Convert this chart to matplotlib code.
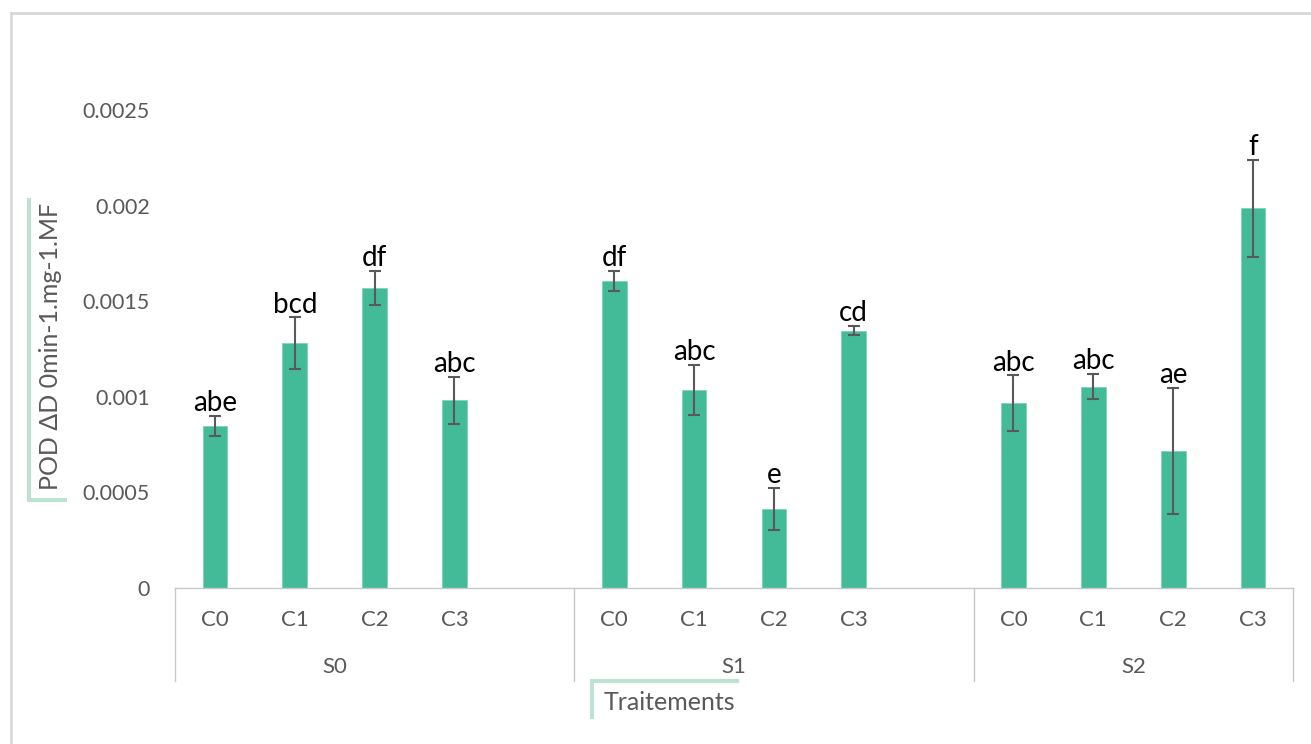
import numpy as np
import matplotlib
matplotlib.use('Agg')
import matplotlib.pyplot as plt
import matplotlib.patheffects as pe
from matplotlib.lines import Line2D
from matplotlib.transforms import blended_transform_factory

plt.rcParams['font.family'] = ['Lato', 'DejaVu Sans']

groups = ['S0', 'S1', 'S2']
treatments = ['C0', 'C1', 'C2', 'C3']
values = [
    [0.000847, 0.00128, 0.00157, 0.000982],
    [0.001606, 0.001036, 0.000413, 0.001346],
    [0.000966, 0.001053, 0.000718, 0.001986],
]
errors = [
    [0.000052, 0.000135, 0.000089, 0.000124],
    [0.000051, 0.000129, 0.000112, 0.0000235],
    [0.000146, 0.000067, 0.00033, 0.000254],
]
letters = [
    ['abe', 'bcd', 'df', 'abc'],
    ['df', 'abc', 'e', 'cd'],
    ['abc', 'abc', 'ae', 'f'],
]
yticks = [0, 0.0005, 0.001, 0.0015, 0.002, 0.0025]
ytick_labels = ['0', '0.0005', '0.001', '0.0015', '0.002', '0.0025']

W, H = 1311, 744
fig = plt.figure(figsize=(W / 100, H / 100), dpi=100)
ax = fig.add_axes([175 / W, 1 - 588 / H, (1293 - 175) / W, (588 - 110) / H])

bar_color = '#44BB98'
grey = '#595959'
slot = 5  # 4 bars + one empty slot per group

xs, ys, es, labs = [], [], [], []
for g in range(len(groups)):
    for t in range(len(treatments)):
        xs.append(g * slot + t)
        ys.append(values[g][t])
        es.append(errors[g][t])
        labs.append(letters[g][t])

ax.bar(xs, ys, width=0.31, color=bar_color, edgecolor='#7fd3b8', linewidth=0.6, zorder=2)
ax.errorbar(xs, ys, yerr=es, fmt='none', ecolor=grey, elinewidth=1.5,
            capsize=4.5, capthick=1.5, zorder=3)
for x, y, e, s in zip(xs, ys, es, labs):
    ax.annotate(s, (x, y + e), xytext=(0, 3.5), textcoords='offset points',
                ha='center', va='baseline', fontsize=20, color='black')

ax.set_xlim(-0.5, 13.5)
ax.set_ylim(0, 0.0025)
ax.set_yticks(yticks)
ax.set_yticklabels(ytick_labels, fontsize=15.5, color=grey)
ax.tick_params(axis='y', length=0, pad=18)
ax.set_xticks([])
for sp in ['top', 'right', 'left']:
    ax.spines[sp].set_visible(False)
ax.spines['bottom'].set_color('#c8c8c8')
ax.spines['bottom'].set_linewidth(1)

trans = blended_transform_factory(ax.transData, ax.transAxes)
ah = 588 - 110
for x, s in zip(xs, [t for g in groups for t in treatments]):
    ax.text(x, -32 / ah, s, transform=trans, ha='center', va='center',
            fontsize=16, color=grey)
for g, name in enumerate(groups):
    centre = g * slot + 1.5
    ax.text(centre, -79 / ah, name, transform=trans, ha='center', va='center',
            fontsize=16, color=grey)
for xb in [-0.5, 4.5, 9.5, 13.5]:
    ax.add_line(Line2D([xb, xb], [0, -93 / ah], transform=trans, color='#c8c8c8',
                       linewidth=1, clip_on=False))

# chart area border (top and left visible)
fig.add_artist(Line2D([11 / W, 1.01], [1 - 13 / H, 1 - 13 / H], color='#d9d9d9', linewidth=2))
fig.add_artist(Line2D([11 / W, 11 / W], [-0.01, 1 - 13 / H], color='#d9d9d9', linewidth=2))

shadow_col = '#9fd8bf'
yl = fig.text(51 / W, 1 - 346 / H, 'POD ΔD 0min-1.mg-1.MF', rotation=90,
              ha='center', va='center', fontsize=18, color=grey,
              bbox=dict(boxstyle='square,pad=0.35', fc='white', ec='none'))
yl.get_bbox_patch().set_path_effects([
    pe.SimplePatchShadow(offset=(-3, -3), shadow_rgbFace=shadow_col, alpha=0.7),
    pe.Normal()])
xl = fig.text(669 / W, 1 - 703 / H, 'Traitements', ha='center', va='center',
              fontsize=18, color=grey,
              bbox=dict(boxstyle='square,pad=0.35', fc='white', ec='none'))
xl.get_bbox_patch().set_path_effects([
    pe.SimplePatchShadow(offset=(-3, 3), shadow_rgbFace=shadow_col, alpha=0.7),
    pe.Normal()])

fig.savefig('out.png', dpi=100)
